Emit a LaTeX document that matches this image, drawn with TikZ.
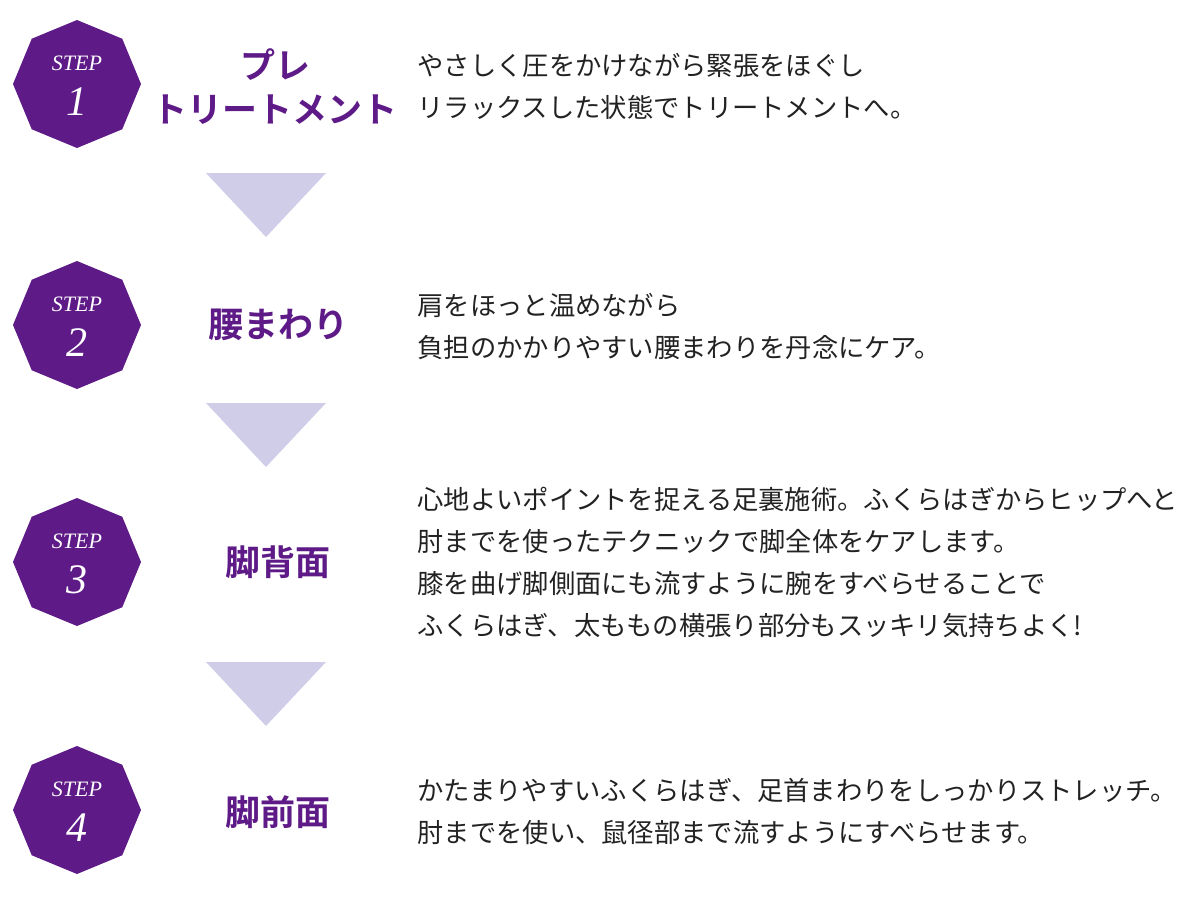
\documentclass[tikz,border=0pt]{standalone}
\usepackage{fontspec}
\usetikzlibrary{shapes.geometric}
\setmainfont{Liberation Serif}
\newfontfamily\jp{Noto Sans CJK JP}
\newfontfamily\jpb{Noto Sans CJK JP Bold}
\definecolor{stepc}{HTML}{5E1A87}
\definecolor{arrc}{HTML}{CFCDE8}
\definecolor{txtc}{HTML}{222222}
\begin{document}
\begin{tikzpicture}[x=1pt,y=-1pt,
  oct/.style={fill=stepc,draw=none,regular polygon,regular polygon sides=8,shape border rotate=22.5,minimum size=128pt,inner sep=0pt},
  title/.style={text=stepc,font=\jpb\fontsize{35}{44}\selectfont,align=center,anchor=center},
  body/.style={text=txtc,font=\jp\fontsize{26.3}{42}\selectfont,align=left,anchor=west},
  lbl/.style={text=white,font=\itshape\fontsize{22}{24}\selectfont},
  num/.style={text=white,font=\itshape\fontsize{42}{44}\selectfont}]
\useasboundingbox (0,0) rectangle (1200,905);
\foreach \i/\y in {1/84,2/325,3/562,4/810}{
  \node[oct] (s\i) at (77,\y) {};
  \node[lbl] (l\i) at (77,\y-21) {STEP};
  \node[num] (n\i) at (77,\y+18) {\i};
}
\foreach \i/\y in {1/173,2/403,3/662}{
  \coordinate (a\i) at (206,\y);
  \coordinate (b\i) at (326,\y);
  \coordinate (c\i) at (266,\y+64);
  \fill[arrc] (a\i) -- (b\i) -- (c\i) -- cycle;
}
\node[title] (t1) at (275,87) {プレ\\トリートメント};
\node[title] (t2) at (278,325) {腰まわり};
\node[title] (t3) at (278,562) {脚背面};
\node[title] (t4) at (278,812) {脚前面};
\node[body] (d1) at (414,86) {やさしく圧をかけながら緊張をほぐし\\リラックスした状態でトリートメントへ。};
\node[body] (d2) at (414,326) {肩をほっと温めながら\\負担のかかりやすい腰まわりを丹念にケア。};
\node[body] (d3) at (414,562) {心地よいポイントを捉える足裏施術。ふくらはぎからヒップへと\\肘までを使ったテクニックで脚全体をケアします。\\膝を曲げ脚側面にも流すように腕をすべらせることで\\ふくらはぎ、太ももの横張り部分もスッキリ気持ちよく!};
\node[body] (d4) at (414,812) {かたまりやすいふくらはぎ、足首まわりをしっかりストレッチ。\\肘までを使い、鼠径部まで流すようにすべらせます。};
\end{tikzpicture}
\end{document}
